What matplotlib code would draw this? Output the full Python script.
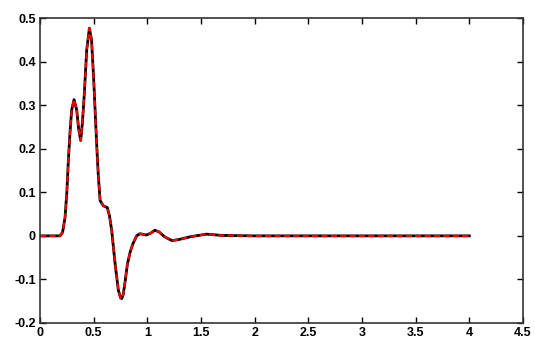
import numpy as np
import matplotlib
matplotlib.use("Agg")
import matplotlib.pyplot as plt

# values
t = [0, 0.1, 0.186, 0.21, 0.233, 0.25, 0.264, 0.28, 0.295, 0.317,
     0.342, 0.36, 0.379, 0.395, 0.413, 0.435, 0.46, 0.48, 0.50, 0.513,
     0.53, 0.544, 0.56, 0.59, 0.627, 0.648, 0.668, 0.70, 0.73, 0.75,
     0.761, 0.775, 0.79, 0.814, 0.84, 0.864, 0.90, 0.93, 0.99, 1.03,
     1.07, 1.11, 1.16, 1.23, 1.30, 1.40, 1.55, 1.7, 2.0, 4.0]
response = [0, 0, 0, 0.008, 0.042, 0.10, 0.173, 0.24, 0.289, 0.313,
            0.289, 0.245, 0.219, 0.26, 0.327, 0.427, 0.477, 0.45, 0.36, 0.289,
            0.20, 0.135, 0.081, 0.069, 0.065, 0.045, 0.012, -0.065, -0.125, -0.142,
            -0.144, -0.135, -0.11, -0.065, -0.037, -0.019, 0.0, 0.005, 0.002, 0.006,
            0.013, 0.009, -0.002, -0.011, -0.008, -0.002, 0.004, 0.001, 0.0, 0.0]

xticks = [0, 0.5, 1, 1.5, 2, 2.5, 3, 3.5, 4, 4.5]
xticklabels = ["0", "0.5", "1", "1.5", "2", "2.5", "3", "3.5", "4", "4.5"]
yticks = [-0.2, -0.1, 0, 0.1, 0.2, 0.3, 0.4, 0.5]
yticklabels = ["-0.2", "-0.1", "0", "0.1", "0.2", "0.3", "0.4", "0.5"]

plt.rcParams['font.family'] = ['Liberation Sans', 'DejaVu Sans']

fig = plt.figure(figsize=(5.35, 3.42), dpi=100)
ax = fig.add_axes([0.0748, 0.0556, 0.9028, 0.8914])

ax.plot(t, response, color='black', lw=2.0, solid_joinstyle='round')
ax.plot(t, response, color='red', lw=1.5, ls=(0, (3, 1.5)),
        dash_joinstyle='round')

ax.set_xlim(0, 4.5)
ax.set_ylim(-0.2, 0.5)
ax.set_xticks(xticks)
ax.set_xticklabels(xticklabels)
ax.set_yticks(yticks)
ax.set_yticklabels(yticklabels)
ax.tick_params(direction='in', top=True, right=True, length=4, width=1,
               labelsize=9, pad=3)
for lab in ax.get_xticklabels() + ax.get_yticklabels():
    lab.set_fontweight('bold')
for sp in ax.spines.values():
    sp.set_color('#333333')
    sp.set_linewidth(1.2)

fig.savefig("out.png", dpi=100)
